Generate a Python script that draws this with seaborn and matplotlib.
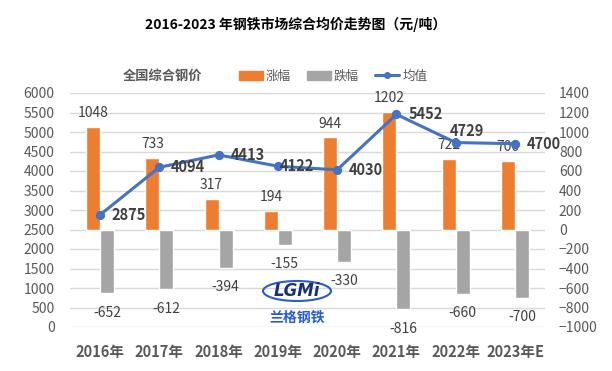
"""plot.py - 2016-2023 钢铁市场综合均价走势图"""
import matplotlib
matplotlib.use("Agg")
import matplotlib.pyplot as plt
from matplotlib.patches import Patch, Ellipse
from matplotlib.lines import Line2D
import seaborn as sns
import pandas as pd

years = ["2016年", "2017年", "2018年", "2019年", "2020年", "2021年", "2022年", "2023年E"]
rise = [1048, 733, 317, 194, 944, 1202, 722, 700]
fall = [-652, -612, -394, -155, -330, -816, -660, -700]
avg_price = [2875, 4094, 4413, 4122, 4030, 5452, 4729, 4700]

ORANGE = "#ED7D31"
GRAY = "#A5A5A5"
BLUE = "#4472C4"
TXT = "#595959"

sns.set_style("white")
plt.rcParams["font.family"] = ["Noto Sans CJK SC", "DejaVu Sans"]

bars = pd.DataFrame({
    "年份": years * 2,
    "值": rise + fall,
    "类型": ["涨幅"] * len(years) + ["跌幅"] * len(years),
})
line = pd.DataFrame({"年份": years, "均值": avg_price})

fig, ax = plt.subplots(figsize=(6.12, 3.71), dpi=100)
fig.subplots_adjust(left=70 / 612, right=545 / 612, top=1 - 93 / 371, bottom=1 - 327 / 371)
ax2 = ax.twinx()

# 涨跌幅柱 (右轴)
sns.barplot(data=bars, x="年份", y="值", hue="类型", hue_order=["涨幅", "跌幅"],
            palette={"涨幅": ORANGE, "跌幅": GRAY}, width=0.47, saturation=1,
            legend=False, ax=ax2)
for cont, pad in zip(ax2.containers, (5, 9)):
    ax2.bar_label(cont, padding=pad, fontsize=10, color="#404040")

# 均值折线 (左轴)
sns.pointplot(data=line, x="年份", y="均值", color=BLUE, markers="o",
              markersize=5, linewidth=2.2, errorbar=None, ax=ax)
ax.set_zorder(ax2.get_zorder() + 1)
ax.patch.set_visible(False)

offsets = {3: (1.5, 0), 6: (-4.5, 8)}
for i, v in enumerate(avg_price):
    ax.annotate(f"{v}", (i, v), xytext=offsets.get(i, (8.5, 0)), textcoords="offset points",
                ha="left", va="center", fontsize=10.5, fontweight="bold", color="#404040")

ax.set_ylim(0, 6000)
ax.set_yticks(range(0, 6001, 500))
ax2.set_ylim(-1000, 1400)
ax2.set_yticks(range(-1000, 1401, 200))
ax.set_xlim(-0.506, len(years) - 1 + 0.506)

ax2.grid(axis="y", color="#D9D9D9", linewidth=1)
ax2.set_axisbelow(True)
for a in (ax, ax2):
    for s in a.spines.values():
        s.set_visible(False)
    a.set_xlabel("")
    a.set_ylabel("")
ax.tick_params(axis="y", length=0, pad=11, labelsize=10, labelcolor=TXT)
ax2.tick_params(axis="y", length=0, pad=10, labelsize=10, labelcolor=TXT)
ax.tick_params(axis="x", length=0, pad=12)
ax.set_xticks(range(len(years)))
ax.set_xticklabels(years, fontsize=10.5, fontweight="bold", color=TXT)

# 标题与图例
fig.text(296 / 612, 1 - 24 / 371, "2016-2023 年钢铁市场综合均价走势图（元/吨）",
         ha="center", va="center", fontsize=10, fontweight="bold", color="black")
fig.text(123 / 612, 1 - 76 / 371, "全国综合钢价", ha="left", va="center",
         fontsize=9.5, fontweight="bold", color=TXT)
handles = [Patch(color=ORANGE), Patch(color=GRAY),
           Line2D([], [], color=BLUE, marker="o", markersize=4, linewidth=2.2)]
fig.legend(handles, ["涨幅", "跌幅", "均值"], loc="center left",
           bbox_to_anchor=(234 / 612, 1 - 76 / 371), ncol=3, frameon=False,
           fontsize=9, labelcolor=TXT, handlelength=1.9, handletextpad=0.25,
           columnspacing=1.3, borderaxespad=0)

# 水印
fig.patches.append(Ellipse((297 / 612, 1 - 291 / 371), 68 / 612, 20 / 371,
                           transform=fig.transFigure, fill=False,
                           edgecolor="#2a5bd7", linewidth=1.5))
fig.text(297 / 612, 1 - 291 / 371, "LGMi", ha="center", va="center", fontsize=12,
         fontweight="bold", fontstyle="italic", color="#1b2f7a", family="DejaVu Sans")
fig.text(297 / 612, 1 - 318 / 371, "兰格钢铁", ha="center", va="center", fontsize=10,
         fontweight="bold", color="#2a5bd7")

fig.savefig("out.png", dpi=100)
